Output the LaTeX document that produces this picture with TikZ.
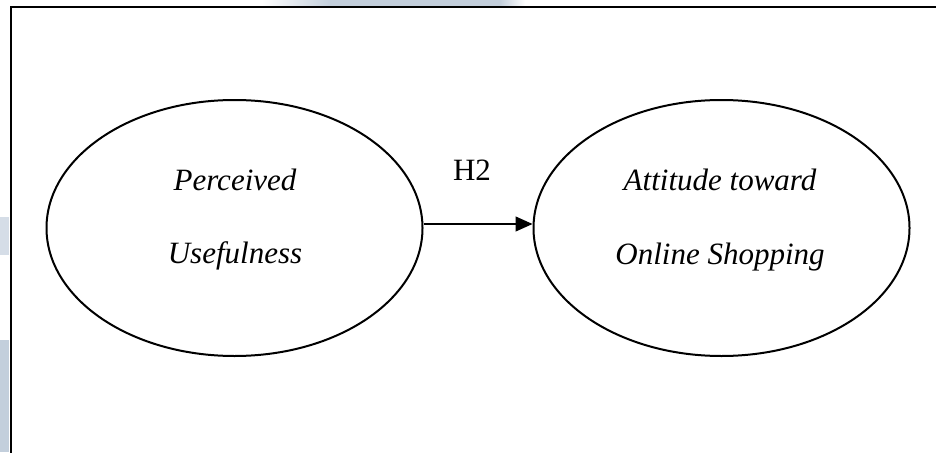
\documentclass[tikz,border=0pt]{standalone}
\usepackage{fontspec}
\setmainfont{Liberation Serif}
\usetikzlibrary{shapes.geometric,arrows.meta}
\definecolor{tint}{HTML}{C3CFDC}
\begin{document}
\begin{tikzpicture}[x=1pt,y=-1pt,
  construct/.style={draw, line width=2pt, ellipse, minimum width=376pt,
    minimum height=256pt, inner sep=0pt},
  lbl/.style={font=\fontsize{31}{31}\selectfont\itshape, anchor=base, inner sep=0pt},
  hyp/.style={font=\fontsize{31}{31}\selectfont, anchor=base, inner sep=0pt},
  link/.style={line width=1.2pt, -{Triangle[length=17pt,width=15pt]}}]
\useasboundingbox (0,0) rectangle (936,452);
\clip (0,0) rectangle (936,452);
% tinted page edges
\fill[left color=white, right color=tint] (262,0) rectangle (330,6);
\fill[tint] (330,0) rectangle (500,6);
\fill[left color=tint, right color=white] (500,0) rectangle (525,6);
\fill[tint!70] (0,217) rectangle (9,255);
\fill[tint] (0,340) rectangle (9,452);
% frame (runs off the page on the right and bottom)
\draw[line width=2.2pt] (960,7) -- (11,7) -- (11,480);
% constructs
\node[construct] (pu) at (234.5,228) {};
\node[construct] (ao) at (721.5,228) {};
\node[lbl] (pu1) at (235,190) {Perceived};
\node[lbl] (pu2) at (235,263) {Usefulness};
\node[lbl] (ao1) at (720,190) {Attitude toward};
\node[lbl] (ao2) at (720,264) {Online Shopping};
% hypothesis path
\draw[link] ([yshift=4pt]pu.east) -- ([yshift=4pt]ao.west);
\node[hyp] (h2) at (472,180) {H2};
\end{tikzpicture}
\end{document}
